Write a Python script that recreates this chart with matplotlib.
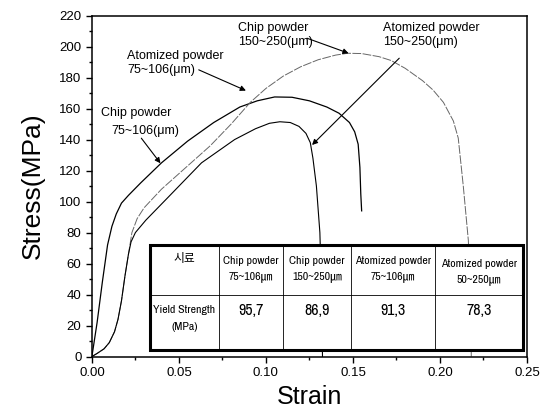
import matplotlib
matplotlib.use('Agg')
import matplotlib.pyplot as plt
from matplotlib.patches import Rectangle
from matplotlib import font_manager as fm

# stress-strain curves
chip_small_strain = [0, 0.003, 0.006, 0.009, 0.0115, 0.014, 0.017, 0.021, 0.028, 0.040, 0.055, 0.070,
                     0.085, 0.095, 0.105, 0.115, 0.125, 0.135, 0.142, 0.148, 0.151, 0.153, 0.154, 0.1545, 0.155]
chip_small_stress = [0, 22, 48, 72, 84, 92, 99, 104, 112, 125, 139, 151,
                     161, 165, 167.5, 167.3, 165, 161, 157, 151, 145, 137, 122, 105, 94]

chip_large_strain = [0, 0.003, 0.007, 0.010, 0.013, 0.015, 0.017, 0.019, 0.021, 0.023, 0.026, 0.030,
                     0.040, 0.052, 0.068, 0.080, 0.091, 0.100, 0.110, 0.120, 0.130, 0.140, 0.147, 0.155,
                     0.165, 0.172, 0.180, 0.190, 0.196, 0.202, 0.2077, 0.2105, 0.2134, 0.2163, 0.2175, 0.218]
chip_large_stress = [0, 2, 5, 9, 16, 24, 36, 52, 66, 80, 89, 96,
                     108, 120, 136, 150, 164, 173, 181, 187, 191.5, 194.5, 195.7, 195.5,
                     193.5, 191, 186, 178, 172, 164, 152, 141, 110, 75, 40, 0]

atom_large_strain = [0, 0.003, 0.007, 0.010, 0.013, 0.015, 0.017, 0.019, 0.021, 0.0225, 0.025, 0.028,
                     0.031, 0.044, 0.063, 0.082, 0.094, 0.102, 0.108, 0.114, 0.119, 0.123, 0.1255,
                     0.127, 0.129, 0.131, 0.132, 0.1325]
atom_large_stress = [0, 2, 5, 9, 16, 24, 36, 52, 66, 74, 80, 84,
                     88, 103, 125, 140, 147, 150.5, 151.5, 151, 148.5, 144, 138,
                     128, 110, 80, 40, 0]

# inset table
table_header = ["시료", "Chip powder\n75~106㎛", "Chip powder\n150~250㎛",
                "Atomized powder\n75~106㎛", "Atomized powder\n50~250㎛"]
table_row = ["Yield Strength\n(MPa)", "95,7", "86,9", "91,3", "78,3"]

MAIN_FONT = ['Liberation Sans', 'DejaVu Sans']

# look for a narrow face for the table (the scan uses a condensed font)
narrow_name = None
narrow_stretch = 'normal'
for f in fm.fontManager.ttflist:
    if f.style != 'normal' or f.weight not in (400, 'normal', 'regular'):
        continue
    if 'Narrow' in f.name or 'Condensed' in f.name:
        narrow_name = f.name
        break
if narrow_name is None:
    for f in fm.fontManager.ttflist:
        if f.stretch in ('condensed', 'semi-condensed') and f.style == 'normal':
            narrow_name = f.name
            narrow_stretch = f.stretch
            break
if narrow_name is None:
    narrow_name = 'Liberation Sans'
TABLE_FONT = [narrow_name, 'Noto Sans CJK KR']
SQUEEZE = narrow_name == 'Liberation Sans'

plt.rcParams['font.family'] = MAIN_FONT

fig = plt.figure(figsize=(5.47, 4.17), dpi=100)
ax = fig.add_axes([0.168, 0.145, 0.7954, 0.8176])

ax.plot(chip_small_strain, chip_small_stress, color='k', lw=0.9, zorder=2)
ax.plot(chip_large_strain, chip_large_stress, color='#666666', lw=0.7, ls=(0, (9, 1.5)), zorder=2)
ax.plot(atom_large_strain, atom_large_stress, color='k', lw=0.8, zorder=2)

ax.set_xlim(0, 0.25)
ax.set_ylim(0, 220)
ax.set_xticks([0, 0.05, 0.10, 0.15, 0.20, 0.25])
ax.set_xticklabels(['0.00', '0.05', '0.10', '0.15', '0.20', '0.25'])
ax.set_xticks([0.025, 0.075, 0.125, 0.175, 0.225], minor=True)
ax.set_yticks(range(0, 221, 20))
ax.set_yticks(range(10, 220, 20), minor=True)
ax.tick_params(which='both', direction='out', labelsize=9.5, width=1)
ax.tick_params(which='major', length=4)
ax.tick_params(which='minor', length=2.5)
for s in ax.spines.values():
    s.set_linewidth(1.1)

ax.set_xlabel('Strain', fontsize=18, labelpad=4)
ax.set_ylabel('Stress(MPa)', fontsize=19, labelpad=10)

# annotations
arr = dict(arrowstyle='-|>', color='k', lw=0.8, mutation_scale=8, shrinkA=0, shrinkB=0)
ax.text(0.084, 207.5, 'Chip powder\n150~250(μm)', fontsize=9, ha='left', va='center')
ax.annotate('', xy=(0.1475, 195.7), xytext=(0.1236, 205.4), arrowprops=arr)
ax.text(0.1675, 207.5, 'Atomized powder\n150~250(μm)', fontsize=9, ha='left', va='center')
ax.annotate('', xy=(0.1265, 136.5), xytext=(0.1766, 192.5), arrowprops=arr)
ax.text(0.0204, 189.3, 'Atomized powder\n75~106(μm)', fontsize=9, ha='left', va='center')
ax.annotate('', xy=(0.0885, 171.6), xytext=(0.0614, 185), arrowprops=arr)
ax.text(0.0054, 157, 'Chip powder', fontsize=9, ha='left', va='center')
ax.text(0.0114, 145.8, '75~106(μm)', fontsize=9, ha='left', va='center')
ax.annotate('', xy=(0.0394, 124.7), xytext=(0.0284, 140.9), arrowprops=arr)

# table drawn in data coordinates
col_edges = [0.0334, 0.0729, 0.1099, 0.1491, 0.1972, 0.2476]
tb_top, tb_mid, tb_bot = 71.8, 39.5, 4.5
ax.add_patch(Rectangle((col_edges[0], tb_bot), col_edges[-1] - col_edges[0], tb_top - tb_bot,
                       facecolor='white', edgecolor='k', lw=2.2, zorder=5))
ax.plot([col_edges[0], col_edges[-1]], [tb_mid, tb_mid], color='k', lw=0.6, zorder=6)
for xe in col_edges[1:-1]:
    ax.plot([xe, xe], [tb_bot, tb_top], color='k', lw=0.6, zorder=6)

small = 7.5 if SQUEEZE else 8.5
big = 10.5 if SQUEEZE else 11.5
for i in range(5):
    xc = (col_edges[i] + col_edges[i + 1]) / 2
    yh = 63 if i == 0 else 56.5
    if i == 4:
        yh = 54.5
    ax.text(xc, yh, table_header[i], fontsize=small, ha='center', va='center', linespacing=1.6,
            family=TABLE_FONT, fontstretch=narrow_stretch, zorder=7)
    if i == 0:
        ax.text(xc, 24.5, table_row[i], fontsize=small, ha='center', va='center', linespacing=1.9,
                family=TABLE_FONT, fontstretch=narrow_stretch, zorder=7)
    else:
        ax.text(xc, 30, table_row[i], fontsize=big, ha='center', va='center',
                family=TABLE_FONT, fontstretch=narrow_stretch, zorder=7)

fig.savefig('out.png', dpi=100)
